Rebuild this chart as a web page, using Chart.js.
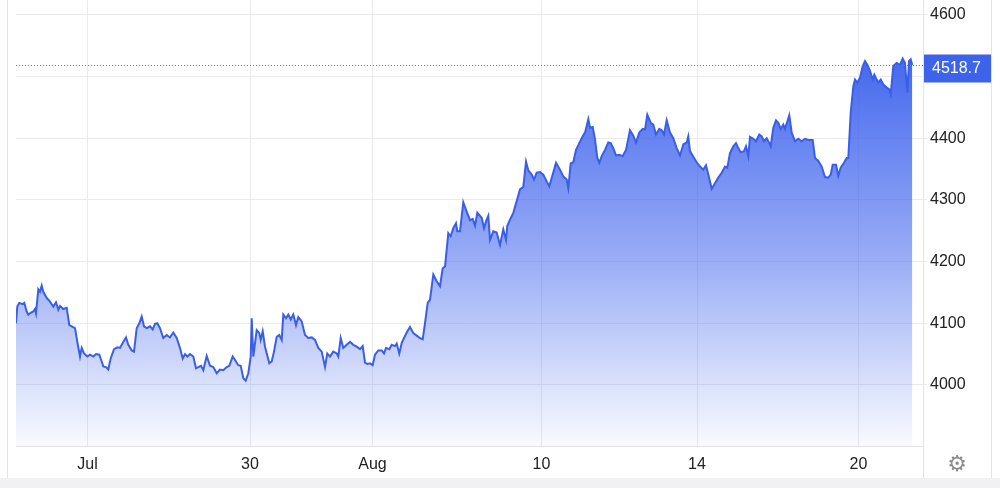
<!DOCTYPE html>
<html>
<head>
<meta charset="utf-8">
<script src="https://cdn.jsdelivr.net/npm/chart.js@4"></script>
<style>
  html, body { margin: 0; padding: 0; background: #fff; }
  #wrap { width: 1000px; height: 488px; }
</style>
</head>
<body>
<div id="wrap"><canvas id="myChart" width="1000" height="488"></canvas></div>
<script>
// time index (trading-time units) and price
const times = [
  0, 1.3, 3.3, 6.7, 8.3, 10.7, 12.3, 14.7, 17.3, 19, 20, 22.3, 24, 25.7, 27.3, 30.7, 34, 37.3, 40, 42.3,
  44, 47.3, 50.7, 53.3, 55.7, 59, 61.3, 64, 65.7, 68, 71.3, 74, 77.3, 80, 83.3, 85.7, 87.3, 90, 92.3, 94.7,
  98, 101.3, 104, 106.7, 110, 112.3, 115.7, 118, 120.7, 123.3, 125.7, 128, 130.7, 134, 136.7, 139, 141.3, 144, 147.3, 150.7,
  154, 157.3, 160.7, 164, 166.7, 169, 171.3, 174, 177.3, 180, 182.3, 185, 187.3, 190.7, 194, 197.3, 200.7, 204, 207.3, 210.7,
  213.3, 216.7, 220, 222.3, 224.7, 227.3, 229.7, 232.3, 234.7, 235.7, 237.3, 240.7, 243.3, 244.7, 246.7, 249, 253.3, 255.7, 258, 260.7,
  263.3, 265.7, 267.3, 270, 272.3, 274.7, 277.3, 280, 282.3, 285.7, 289, 292.3, 295.7, 299, 302.3, 305.7, 309, 311.3, 314, 317.3,
  320.7, 322.3, 324.7, 327.3, 330.7, 334, 337.3, 340.7, 344, 346.7, 349, 351.3, 354, 356.7, 359, 362.3, 365.7, 368, 370, 373.3,
  375.7, 379, 380.7, 383.3, 385.7, 388, 390.7, 394, 397.3, 400.7, 404, 406.7, 409, 411.7, 414, 417.3, 420.7, 424, 426.7, 429,
  432.3, 434.7, 437.3, 440, 441.3, 444, 447.3, 450.7, 454, 456.7, 459, 461.3, 465.7, 468, 470, 472.3, 474, 477.3, 480.7, 484,
  487.3, 490, 491.3, 494, 497.3, 500.7, 504, 507.3, 510, 512.3, 515.7, 518, 520.7, 524, 527.3, 530.7, 533.3, 536.7, 540, 544,
  547.3, 550.7, 552.3, 554.7, 557.3, 560, 563.3, 566.7, 569, 572.3, 574, 576.7, 579, 581.3, 583.3, 585.7, 589, 592.3, 594.7, 597.3,
  600, 603.3, 606.7, 610, 614, 617.3, 620, 623.3, 626.7, 629, 631.3, 634.7, 637.3, 640, 643.3, 645.7, 648, 650.7, 654, 657.3,
  660.7, 664, 667.3, 670.7, 672.3, 674, 677.3, 680.7, 684, 687.3, 690, 692.3, 695.7, 699, 702.3, 705.7, 709, 711.3, 714, 717.3,
  720, 722.3, 724.7, 728, 730, 732.3, 734, 737.3, 740, 743.3, 745.7, 748, 750.7, 753.3, 754.7, 757.3, 760, 762.3, 764.7, 767.3,
  769, 773.3, 775.7, 779, 782.3, 785.7, 789, 792.3, 796.7, 799, 802.3, 805.7, 809, 812.3, 814.7, 816.7, 820, 822.3, 824.7, 828,
  830.7, 832.3, 834.7, 837.3, 839, 841.3, 844, 846.7, 849, 851.3, 854, 856.7, 858.3, 860.7, 862.3, 864.7, 867.3, 870.7, 873.3, 874.7,
  877.3, 880.7, 884, 886.7, 889, 891.3, 893, 894.7, 896.3
];
const prices = [
  4100, 4127, 4133, 4131, 4133, 4119, 4114, 4117, 4119, 4123, 4116, 4155, 4151, 4161, 4151, 4141, 4135, 4127, 4134, 4122,
  4128, 4123, 4125, 4097, 4095, 4092, 4070, 4046, 4060, 4051, 4046, 4049, 4046, 4050, 4049, 4038, 4030, 4029, 4025, 4043,
  4058, 4061, 4060, 4068, 4077, 4065, 4056, 4054, 4092, 4100, 4111, 4095, 4092, 4095, 4090, 4099, 4100, 4092, 4076, 4081,
  4077, 4085, 4076, 4060, 4043, 4050, 4046, 4050, 4046, 4027, 4029, 4031, 4024, 4047, 4031, 4029, 4019, 4025, 4024, 4029,
  4031, 4046, 4038, 4032, 4031, 4011, 4007, 4019, 4046, 4108, 4046, 4089, 4084, 4073, 4087, 4062, 4035, 4038, 4054, 4078,
  4081, 4073, 4114, 4108, 4114, 4106, 4114, 4097, 4110, 4103, 4081, 4076, 4077, 4073, 4060, 4054, 4029, 4051, 4046, 4054,
  4051, 4046, 4076, 4060, 4065, 4070, 4065, 4062, 4058, 4063, 4036, 4034, 4035, 4032, 4049, 4056, 4056, 4051, 4060, 4058,
  4065, 4063, 4067, 4051, 4068, 4076, 4085, 4094, 4084, 4080, 4076, 4074, 4100, 4133, 4138, 4179, 4168, 4160, 4189, 4192,
  4246, 4241, 4254, 4262, 4249, 4249, 4296, 4281, 4267, 4269, 4258, 4279, 4271, 4254, 4265, 4274, 4235, 4249, 4247, 4227,
  4252, 4235, 4258, 4268, 4279, 4298, 4317, 4321, 4362, 4348, 4341, 4333, 4344, 4345, 4341, 4330, 4322, 4341, 4360, 4349,
  4338, 4333, 4319, 4359, 4361, 4381, 4392, 4403, 4409, 4431, 4417, 4418, 4398, 4368, 4360, 4371, 4381, 4393, 4392, 4384,
  4372, 4373, 4371, 4381, 4413, 4404, 4393, 4409, 4415, 4414, 4438, 4425, 4422, 4406, 4415, 4413, 4406, 4429, 4409, 4400,
  4384, 4372, 4390, 4393, 4403, 4379, 4370, 4361, 4354, 4349, 4356, 4341, 4318, 4327, 4336, 4344, 4354, 4352, 4376, 4387,
  4392, 4384, 4377, 4379, 4387, 4371, 4402, 4399, 4395, 4406, 4403, 4395, 4400, 4392, 4387, 4417, 4429, 4425, 4415, 4422,
  4415, 4437, 4409, 4395, 4399, 4395, 4399, 4397, 4397, 4368, 4363, 4354, 4337, 4336, 4341, 4357, 4357, 4339, 4352, 4360,
  4368, 4368, 4441, 4484, 4495, 4490, 4498, 4517, 4525, 4519, 4509, 4495, 4503, 4495, 4490, 4495, 4487, 4482, 4479, 4471,
  4517, 4522, 4519, 4529, 4522, 4474, 4525, 4528, 4518.7
];
const lastPrice = 4518.7;
const yTicks = [4000, 4100, 4200, 4300, 4400, 4500, 4600];
const xTickPos = [71.5, 234, 356.5, 525.5, 681, 842.5];
const xTickLabels = ["Jul", "30", "Aug", "10", "14", "20"];

const lineBlue = "#3a5fe6";
const gridCol = "#ebebeb";
const font = { family: "'Liberation Sans', Arial, sans-serif", size: 16 };

const decor = {
  id: 'decor',
  beforeDraw(chart) {
    const c = chart.ctx;
    c.save();
    c.fillStyle = "#fff";
    c.fillRect(0, 0, chart.width, chart.height);
    c.fillStyle = "#f1f1f3";
    c.fillRect(0, 478, chart.width, 10);
    c.strokeStyle = "#e4e4e4";
    c.lineWidth = 1;
    [7.5, 923.5, 991.5].forEach(x => {
      c.beginPath(); c.moveTo(x, 0); c.lineTo(x, 478); c.stroke();
    });
    c.restore();
  },
  afterDatasetsDraw(chart) {
    const c = chart.ctx;
    const area = chart.chartArea;
    const y = Math.round(chart.scales.y.getPixelForValue(lastPrice)) + 0.5;
    c.save();
    c.strokeStyle = "#5a76e0";
    c.lineWidth = 1;
    c.setLineDash([1, 2]);
    c.beginPath(); c.moveTo(area.left, y); c.lineTo(area.right, y); c.stroke();
    c.setLineDash([]);
    c.fillStyle = "#3c63ea";
    c.fillRect(924, y - 11, 67, 28);
    c.fillStyle = "#fff";
    c.font = "16px 'Liberation Sans', Arial, sans-serif";
    c.textBaseline = "middle";
    c.fillText(lastPrice.toFixed(1), 932, y + 3);
    // settings gear
    c.fillStyle = "#8a8a8a";
    c.font = "22px 'DejaVu Sans'";
    c.textAlign = "center";
    c.fillText("\u2699", 957, 465);
    c.restore();
  }
};

new Chart(document.getElementById('myChart'), {
  type: 'line',
  data: {
    datasets: [{
      data: times.map((t, i) => ({ x: t, y: prices[i] })),
      borderColor: lineBlue,
      borderWidth: 2,
      pointRadius: 0,
      tension: 0,
      fill: 'start',
      backgroundColor: (ctx) => {
        const area = ctx.chart.chartArea;
        if (!area) return "rgba(66,103,238,0.4)";
        const g = ctx.chart.ctx.createLinearGradient(0, 55, 0, area.bottom);
        g.addColorStop(0, "rgba(62,99,237,0.97)");
        g.addColorStop(0.5, "rgba(62,99,237,0.55)");
        g.addColorStop(1, "rgba(62,99,237,0.03)");
        return g;
      }
    }]
  },
  options: {
    responsive: false,
    animation: false,
    layout: { padding: { left: 16, top: 0, right: 0, bottom: 0 } },
    plugins: {
      legend: { display: false },
      tooltip: { enabled: false }
    },
    scales: {
      x: {
        type: 'linear',
        min: 0,
        max: 907,
        afterBuildTicks: s => { s.ticks = xTickPos.map(v => ({ value: v })); },
        afterFit: s => { s.height = 42; s.paddingLeft = 0; s.paddingRight = 0; },
        ticks: {
          callback: v => xTickLabels[xTickPos.indexOf(v)],
          autoSkip: false,
          maxRotation: 0,
          padding: 9,
          color: "#222",
          font: font
        },
        grid: { color: gridCol, drawTicks: false },
        border: { color: "#e2e2e2" }
      },
      y: {
        position: 'right',
        min: 3901,
        max: 4624,
        afterBuildTicks: s => { s.ticks = yTicks.map(v => ({ value: v })); },
        afterFit: s => { s.width = 77; s.paddingTop = 0; s.paddingBottom = 0; },
        ticks: {
          callback: v => String(v),
          padding: 3,
          color: "#222",
          font: font
        },
        grid: { color: gridCol, tickLength: 4 },
        border: { display: false }
      }
    }
  },
  plugins: [decor]
});
</script>
</body>
</html>
